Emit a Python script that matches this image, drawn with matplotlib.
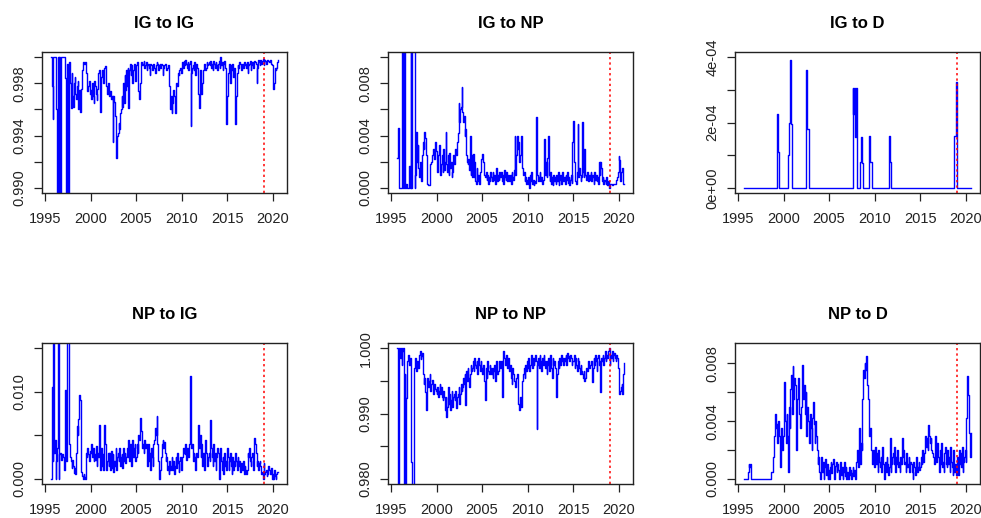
import numpy as np
import pandas as pd
import matplotlib
matplotlib.use("Agg")
import matplotlib.pyplot as plt
from matplotlib.ticker import FixedLocator, FixedFormatter

plt.rcParams['font.family'] = ['Liberation Sans', 'DejaVu Sans']

# monthly observations, Sep 1995 .. Aug 2020
dates = pd.date_range("1995-09-01", periods=300, freq="MS")
years = dates.year + (dates.month - 1) / 12.0
cutoff_year = 2019.0

titles = ["IG to IG", "IG to NP", "IG to D", "NP to IG", "NP to NP", "NP to D"]

# IG to IG: shortfall from 1, in units of 1e-4
ig_ig_gap = [
    0, 22, 47, 0,
    0, 0, 0, 40, 150, 0, 150, 0, 150, 0, 0, 0,
    0, 0, 0, 16, 150, 5, 150, 150, 4, 20, 39, 12,
    30, 38, 20, 15, 28, 32, 22, 18, 40, 25, 42, 30,
    24, 10, 4, 4, 5, 4, 12, 20, 26, 22, 18, 28,
    25, 32, 20, 30, 35, 18, 22, 28, 33, 24, 12, 10,
    12, 42, 15, 10, 14, 20, 8, 7, 15, 22, 28, 20,
    28, 30, 26, 32, 30, 65, 30, 34, 45, 55, 77, 60,
    58, 50, 55, 43, 40, 30, 38, 20, 35, 14, 25, 10,
    22, 8, 39, 10, 5, 14, 6, 20, 10, 5, 8, 18,
    6, 4, 12, 26, 32, 20, 8, 4, 6, 5, 3, 8,
    6, 4, 10, 6, 5, 8, 14, 5, 6, 10, 8, 5,
    8, 12, 6, 4, 5, 10, 6, 5, 8, 5, 6, 14,
    8, 6, 5, 7, 10, 8, 6, 14, 22, 40, 30, 43,
    35, 25, 30, 43, 28, 20, 22, 12, 14, 10, 8, 12,
    5, 4, 8, 3, 6, 2, 5, 8, 4, 10, 5, 3,
    53, 12, 8, 6, 10, 4, 14, 5, 8, 20, 28, 39,
    10, 14, 28, 20, 10, 6, 5, 10, 8, 4, 6, 5,
    4, 6, 3, 8, 5, 10, 3, 5, 8, 4, 6, 10,
    5, 3, 8, 0, 6, 4, 10, 5, 3, 8, 12, 51,
    30, 12, 8, 5, 20, 6, 10, 5, 15, 8, 25, 51,
    30, 12, 6, 8, 4, 5, 10, 6, 5, 8, 4, 6,
    5, 8, 4, 12, 6, 5, 3, 10, 6, 4, 8, 5,
    3, 4, 5, 20, 8, 2, 4, 6, 2, 5, 3, 1,
    6, 2, 3, 5, 4, 2, 3, 4, 3, 2, 5, 6,
    18, 24, 20, 8, 10, 8, 4, 2,
]

# IG to NP, units of 1e-4
ig_np = [
    23, 46, 0, 0,
    0, 0, 82, 120, 0, 120, 120, 0, 3, 0, 0, 0,
    17, 0, 120, 0, 120, 120, 120, 0, 10, 43, 20, 33,
    15, 8, 20, 12, 5, 25, 35, 30, 43, 38, 25, 20,
    3, 2, 2, 15, 18, 20, 25, 28, 30, 22, 35, 28,
    20, 12, 25, 33, 15, 10, 18, 25, 12, 30, 14, 20,
    43, 18, 12, 25, 10, 27, 15, 20, 8, 12, 25, 18,
    28, 30, 25, 35, 42, 65, 50, 60, 62, 77, 58, 50,
    55, 40, 45, 25, 20, 18, 22, 14, 40, 10, 25, 8,
    26, 8, 20, 5, 3, 15, 5, 10, 3, 12, 18, 22,
    26, 20, 15, 10, 8, 12, 6, 10, 3, 8, 5, 12,
    8, 5, 12, 6, 10, 3, 8, 15, 5, 10, 6, 12,
    8, 12, 5, 10, 3, 14, 8, 6, 12, 5, 10, 8,
    5, 10, 3, 12, 8, 6, 14, 40, 10, 25, 40, 30,
    35, 20, 25, 40, 18, 15, 10, 12, 5, 8, 3, 6,
    3, 8, 0, 10, 5, 12, 3, 6, 2, 5, 4, 54,
    28, 10, 5, 8, 12, 5, 8, 3, 6, 15, 37, 10,
    20, 8, 23, 40, 10, 5, 12, 3, 8, 2, 10, 5,
    8, 3, 10, 5, 12, 2, 6, 10, 3, 8, 12, 5,
    8, 3, 10, 6, 12, 4, 8, 2, 6, 10, 4, 35,
    51, 20, 8, 5, 3, 12, 49, 8, 15, 10, 5, 8,
    50, 12, 8, 30, 10, 6, 12, 8, 5, 10, 6, 12,
    5, 10, 8, 3, 12, 6, 10, 5, 8, 3, 20, 10,
    20, 15, 5, 8, 3, 6, 5, 3, 8, 2, 5, 0,
    3, 3, 3, 2, 3, 3, 3, 3, 4, 6, 8, 12,
    24, 21, 5, 12, 15, 15, 3, 3,
]

# IG to D, units of 1e-5
ig_d = [
    0, 0, 0, 0,
    0, 0, 0, 0, 0, 0, 0, 0, 0, 0, 0, 0,
    0, 0, 0, 0, 0, 0, 0, 0, 0, 0, 0, 0,
    0, 0, 0, 0, 0, 0, 0, 0, 0, 0, 0, 0,
    0, 0, 0, 0, 22.5, 11, 0, 0, 0, 0, 0, 0,
    0, 0, 0, 0, 0, 0, 10, 20, 20, 39, 19.5, 0,
    0, 0, 0, 0, 0, 0, 0, 0, 0, 0, 0, 0,
    0, 0, 0, 0, 0, 0, 36, 18, 18, 0, 0, 0,
    0, 0, 0, 0, 0, 0, 0, 0, 0, 0, 0, 0,
    0, 0, 0, 0, 0, 0, 0, 0, 0, 0, 0, 0,
    0, 0, 0, 0, 0, 0, 0, 0, 0, 0, 0, 0,
    0, 0, 0, 0, 0, 0, 0, 0, 0, 0, 0, 0,
    0, 0, 0, 0, 0, 0, 0, 30.5, 22.5, 30.5, 15.5, 30.5,
    30.5, 0, 0, 0, 0, 8, 15.5, 7.5, 7.5, 0, 0, 0,
    0, 0, 0, 0, 8, 16, 8, 8, 0, 0, 0, 0,
    0, 0, 0, 0, 0, 0, 0, 0, 0, 0, 0, 0,
    0, 0, 0, 0, 0, 0, 0, 16, 8, 0, 0, 0,
    0, 0, 0, 0, 0, 0, 0, 0, 0, 0, 0, 0,
    0, 0, 0, 0, 0, 0, 0, 0, 0, 0, 0, 0,
    0, 0, 0, 0, 0, 0, 0, 0, 0, 0, 0, 0,
    0, 0, 0, 0, 0, 0, 0, 0, 0, 0, 0, 0,
    0, 0, 0, 0, 0, 0, 0, 0, 0, 0, 0, 0,
    0, 0, 0, 0, 0, 0, 0, 0, 0, 0, 0, 0,
    0, 0, 0, 0, 0, 0, 0, 0, 0, 16, 16, 32.5,
    0, 0, 0, 0, 0, 0, 0, 0, 0, 0, 0, 0,
    0, 0, 0, 0, 0, 0, 0, 0,
]

# NP to IG, units of 1e-4
np_ig = [
    0, 105, 20, 170,
    30, 45, 0, 20, 35, 170, 0, 28, 30, 22, 25, 28,
    25, 10, 30, 102, 20, 170, 170, 60, 40, 25, 20, 12,
    22, 15, 7, 12, 5, 30, 61, 50, 69, 96, 90, 60,
    8, 3, 0, 6, 2, 0, 30, 25, 35, 28, 20, 32,
    30, 40, 25, 35, 20, 28, 22, 38, 15, 30, 25, 62,
    20, 10, 35, 15, 28, 10, 62, 40, 25, 10, 20, 30,
    15, 30, 10, 32, 12, 28, 8, 20, 15, 35, 10, 25,
    30, 20, 35, 15, 25, 28, 12, 35, 20, 30, 18, 25,
    35, 25, 45, 20, 40, 30, 15, 45, 25, 35, 40, 20,
    25, 40, 30, 50, 45, 70, 60, 55, 35, 40, 30, 45,
    35, 40, 25, 15, 40, 20, 30, 10, 35, 25, 15, 40,
    45, 58, 50, 72, 40, 20, 0, 5, 10, 25, 40, 45,
    35, 42, 30, 20, 25, 10, 15, 5, 20, 10, 15, 25,
    10, 20, 5, 15, 25, 12, 30, 18, 8, 20, 25, 10,
    20, 25, 35, 30, 28, 40, 22, 35, 30, 25, 40, 118,
    72, 35, 40, 20, 30, 25, 10, 30, 25, 45, 62, 35,
    50, 25, 40, 15, 30, 20, 10, 45, 30, 20, 15, 25,
    30, 20, 68, 35, 25, 15, 40, 20, 30, 10, 25, 35,
    30, 0, 15, 35, 20, 10, 25, 5, 30, 15, 20, 10,
    35, 25, 10, 20, 30, 15, 5, 25, 10, 20, 15, 30,
    20, 10, 25, 15, 20, 8, 18, 12, 10, 20, 5, 15,
    10, 5, 10, 30, 25, 35, 20, 15, 25, 30, 10, 20,
    47, 40, 30, 15, 20, 10, 18, 20, 15, 5, 8, 0,
    18, 5, 8, 10, 3, 5, 15, 10, 8, 5, 12, 0,
    5, 0, 10, 3, 0, 5, 8, 8,
]

# NP to NP: shortfall from 1, in units of 1e-4
np_np_gap = [
    0, 210, 113, 0,
    15, 0, 25, 5, 0, 210, 40, 210, 77, 20, 15, 10,
    25, 15, 20, 175, 210, 210, 30, 22, 15, 35, 20, 25,
    30, 10, 5, 17, 12, 8, 40, 55, 45, 67, 95, 50,
    45, 60, 50, 40, 65, 55, 48, 60, 70, 55, 62, 65,
    70, 60, 75, 65, 55, 70, 60, 75, 80, 65, 75, 95,
    75, 105, 90, 60, 85, 70, 95, 80, 65, 90, 75, 70,
    80, 65, 92, 75, 70, 60, 85, 70, 55, 65, 60, 45,
    55, 40, 87, 35, 50, 30, 45, 60, 40, 25, 35, 30,
    20, 35, 15, 25, 30, 20, 40, 15, 25, 35, 20, 30,
    40, 25, 35, 50, 80, 30, 45, 20, 35, 40, 25, 30,
    40, 30, 45, 35, 25, 50, 30, 20, 40, 35, 25, 20,
    30, 20, 75, 10, 4, 15, 25, 20, 10, 30, 15, 20,
    35, 25, 45, 55, 30, 40, 50, 55, 60, 45, 40, 55,
    85, 95, 75, 90, 60, 50, 40, 30, 45, 25, 35, 20,
    30, 15, 35, 25, 20, 10, 30, 15, 25, 20, 10, 20,
    123, 25, 15, 30, 10, 20, 35, 15, 25, 10, 20, 30,
    20, 40, 25, 15, 35, 20, 10, 30, 45, 15, 25, 20,
    30, 45, 75, 40, 20, 30, 15, 25, 10, 20, 15, 25,
    15, 20, 10, 25, 8, 15, 12, 20, 10, 15, 25, 20,
    20, 10, 30, 15, 25, 35, 15, 20, 30, 40, 25, 35,
    40, 45, 35, 50, 45, 30, 35, 25, 20, 30, 25, 20,
    20, 52, 30, 15, 25, 10, 20, 35, 15, 10, 25, 20,
    67, 15, 20, 10, 25, 15, 5, 20, 10, 15, 5, 0,
    25, 10, 15, 5, 20, 10, 8, 15, 20, 10, 15, 30,
    45, 70, 65, 60, 55, 70, 40, 22,
]

# NP to D, units of 1e-4
np_d = [
    0, 0, 0, 0,
    0, 5, 10, 8, 10, 0, 0, 0, 0, 0, 0, 0,
    0, 0, 0, 0, 0, 0, 0, 0, 0, 0, 0, 0,
    0, 0, 0, 0, 0, 0, 0, 0, 5, 5, 15, 15,
    30, 45, 35, 38, 25, 40, 30, 15, 8, 35, 20, 30,
    55, 67, 40, 25, 45, 30, 5, 50, 35, 62, 72, 45,
    78, 55, 70, 65, 45, 20, 55, 70, 60, 45, 35, 50,
    70, 79, 55, 65, 45, 60, 30, 50, 40, 35, 25, 45,
    35, 20, 42, 53, 38, 25, 40, 30, 20, 10, 15, 5,
    0, 10, 15, 5, 12, 0, 8, 14, 3, 10, 0, 6,
    0, 8, 12, 4, 10, 14, 6, 0, 9, 12, 5, 10,
    6, 0, 10, 12, 3, 8, 0, 5, 12, 2, 8, 0,
    5, 0, 8, 3, 6, 0, 4, 8, 2, 6, 0, 5,
    12, 20, 8, 15, 35, 10, 25, 20, 55, 75, 70, 80,
    75, 85, 65, 55, 45, 30, 35, 20, 15, 10, 20, 8,
    15, 22, 10, 18, 5, 20, 12, 8, 15, 5, 22, 10,
    8, 0, 12, 5, 15, 10, 3, 8, 28, 5, 10, 15,
    18, 10, 22, 5, 15, 10, 20, 8, 12, 5, 15, 10,
    28, 15, 20, 10, 12, 5, 18, 8, 10, 15, 5, 12,
    10, 5, 0, 12, 8, 3, 10, 15, 5, 8, 12, 6,
    8, 15, 10, 20, 12, 18, 25, 30, 22, 28, 20, 37,
    30, 25, 28, 20, 18, 15, 10, 20, 30, 12, 25, 18,
    15, 5, 20, 10, 25, 8, 12, 5, 18, 22, 10, 8,
    20, 10, 15, 5, 22, 12, 8, 3, 20, 5, 10, 3,
    5, 15, 3, 20, 10, 18, 8, 22, 5, 12, 15, 20,
    12, 42, 71, 58, 40, 32, 15, 32,
]

series = [
    1 - np.array(ig_ig_gap) * 1e-4,
    np.array(ig_np) * 1e-4,
    np.array(ig_d) * 1e-5,
    np.array(np_ig) * 1e-4,
    1 - np.array(np_np_gap) * 1e-4,
    np.array(np_d) * 1e-4,
]

ylims = [(0.9896, 1.0004), (-0.0004, 0.0104), (-0.000016, 0.000416),
         (-0.0006, 0.0156), (0.9792, 1.0008), (-0.00035, 0.0094)]
yticks = [[0.990, 0.992, 0.994, 0.996, 0.998, 1.000],
          [0.000, 0.002, 0.004, 0.006, 0.008, 0.010],
          [0, 1e-4, 2e-4, 3e-4, 4e-4],
          [0.000, 0.005, 0.010, 0.015],
          [0.980, 0.985, 0.990, 0.995, 1.000],
          [0.000, 0.002, 0.004, 0.006, 0.008]]
ylabels = [["0.990", "", "0.994", "", "0.998", ""],
           ["0.000", "", "0.004", "", "0.008", ""],
           ["0e+00", "", "2e-04", "", "4e-04"],
           ["0.000", "", "0.010", ""],
           ["0.980", "", "0.990", "", "1.000"],
           ["0.000", "", "0.004", "", "0.008"]]

fig = plt.figure(figsize=(9.81, 5.18), dpi=100)
W, H = 981.0, 518.0
lefts = [42, 388, 735]
tops = [52, 343]
aw, ah = 245, 141

for k in range(6):
    r, c = divmod(k, 3)
    ax = fig.add_axes([lefts[c] / W, (H - tops[r] - ah) / H, aw / W, ah / H])
    ax.plot(years, series[k], color="blue", lw=1.0, drawstyle="steps-post")
    ax.axvline(cutoff_year, color="red", linestyle=(0, (1.5, 2)), lw=1.1)
    ax.set_xlim(1994.67, 2021.58)
    ax.set_ylim(*ylims[k])
    ax.set_xticks([1995, 2000, 2005, 2010, 2015, 2020])
    ax.yaxis.set_major_locator(FixedLocator(yticks[k]))
    ax.yaxis.set_major_formatter(FixedFormatter(ylabels[k]))
    ax.tick_params(axis="both", direction="out", length=6, width=0.9,
                   labelsize=10.5, colors="#222222")
    ax.tick_params(axis="x", pad=8)
    ax.tick_params(axis="y", pad=5, labelrotation=90)
    for lab in ax.get_yticklabels():
        lab.set_va("center")
    for sp in ax.spines.values():
        sp.set_linewidth(1.0)
        sp.set_color("#222222")
    ax.set_title(titles[k], fontsize=12, fontweight="bold", pad=17)

fig.savefig("out.png", dpi=100)
